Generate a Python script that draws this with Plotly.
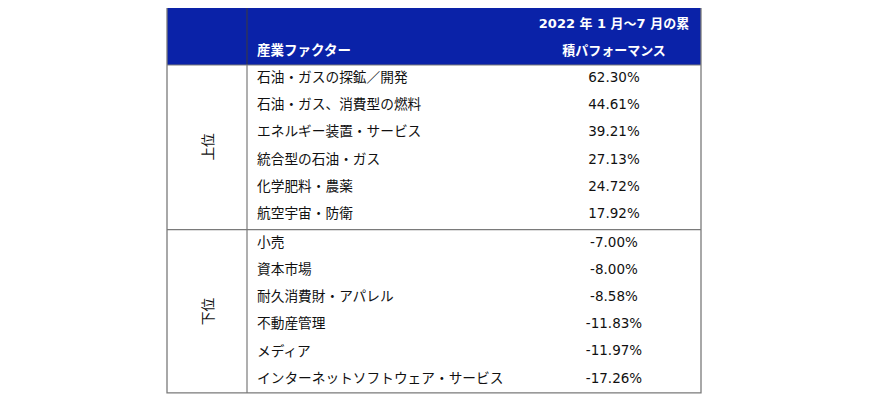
import plotly.graph_objects as go

# 産業ファクター表 (2022年1月～7月の累積パフォーマンス)
top_factors = ["石油・ガスの探鉱／開発", "石油・ガス、消費型の燃料", "エネルギー装置・サービス",
               "統合型の石油・ガス", "化学肥料・農薬", "航空宇宙・防衛"]
top_values = [62.30, 44.61, 39.21, 27.13, 24.72, 17.92]

bottom_factors = ["小売", "資本市場", "耐久消費財・アパレル", "不動産管理", "メディア",
                  "インターネットソフトウェア・サービス"]
bottom_values = [-7.00, -8.00, -8.58, -11.83, -11.97, -17.26]

group_labels = ["上位", "下位"]
header_factor = "産業ファクター"
header_perf = ["2022 年 1 月～7 月の累", "積パフォーマンス"]

# layout (pixel-like axes; page body adds an 8px margin, so ranges are shifted)
pad = 8
left, right, top = 167, 701, 7
col_div = 247
header_bottom = 65
row_h = 27.2
name_x = 257
value_x = 614
blue = "#0A22A8"
line_col = "#7a7a7a"
jp_font = "Noto Sans CJK JP"
num_font = "DejaVu Sans, Noto Sans CJK JP"

groups = [(top_factors, top_values), (bottom_factors, bottom_values)]

fig = go.Figure()
shapes = []
annotations = []

shapes.append(dict(type="rect", x0=left, x1=right, y0=top, y1=header_bottom,
                   fillcolor=blue, line=dict(width=0), layer="below"))

y_start = header_bottom
for g, (names, vals) in enumerate(groups):
    ys = [y_start + row_h * (i + 0.5) for i in range(len(names))]
    fig.add_trace(go.Scatter(
        x=[name_x] * len(names), y=ys, text=names, mode="text",
        textposition="middle right",
        textfont=dict(family=jp_font, size=13.7, color="#111111"),
        hoverinfo="skip", showlegend=False))
    fig.add_trace(go.Scatter(
        x=[value_x] * len(vals), y=ys, text=[f"{v:.2f}%" for v in vals], mode="text",
        textposition="middle center",
        textfont=dict(family=num_font, size=13.5, color="#111111"),
        hoverinfo="skip", showlegend=False))
    y_end = y_start + row_h * len(names)
    annotations.append(dict(x=207, y=(y_start + y_end) / 2, xref="x", yref="y",
                            text=group_labels[g], textangle=-90, showarrow=False,
                            font=dict(family=jp_font, size=13.7, color="#111111")))
    if g == 0:
        shapes.append(dict(type="line", x0=left, x1=right, y0=y_end + 1.5, y1=y_end + 1.5,
                           line=dict(color=line_col, width=1.2)))
        y_start = y_end + 1.5
    bottom = y_end

# header texts
fig.add_trace(go.Scatter(
    x=[name_x], y=[52], text=[header_factor], mode="text", textposition="middle right",
    textfont=dict(family=jp_font, size=13.5, color="white", weight="bold"),
    hoverinfo="skip", showlegend=False))
fig.add_trace(go.Scatter(
    x=[value_x, value_x], y=[25, 52], text=header_perf, mode="text",
    textposition="middle center",
    textfont=dict(family=num_font, size=13, color="white", weight="bold"),
    hoverinfo="skip", showlegend=False))

# frame
shapes.append(dict(type="rect", x0=left, x1=right, y0=top, y1=bottom,
                   line=dict(color=line_col, width=1.3)))
shapes.append(dict(type="line", x0=col_div, x1=col_div, y0=top, y1=bottom,
                   line=dict(color=line_col, width=1.2)))
shapes.append(dict(type="line", x0=col_div, x1=col_div, y0=top, y1=header_bottom,
                   line=dict(color="#0a1560", width=1.2)))
shapes.append(dict(type="line", x0=left, x1=right, y0=header_bottom, y1=header_bottom,
                   line=dict(color=line_col, width=1.2)))

fig.update_layout(
    width=870, height=400,
    margin=dict(l=0, r=0, t=0, b=0),
    paper_bgcolor="white", plot_bgcolor="white",
    xaxis=dict(range=[pad, 870 + pad], visible=False, fixedrange=True),
    yaxis=dict(range=[400 + pad, pad], visible=False, fixedrange=True),
    shapes=shapes, annotations=annotations,
    showlegend=False,
)

fig.write_html("out.html")
